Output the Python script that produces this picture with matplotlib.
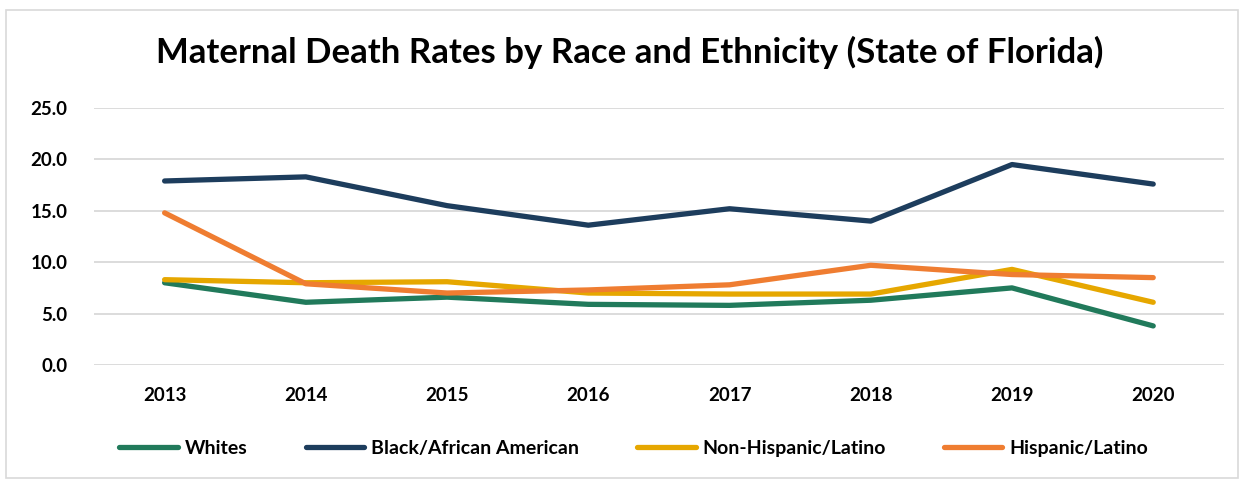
import matplotlib
matplotlib.use('Agg')
import matplotlib.pyplot as plt
from matplotlib.patches import Rectangle

# Values
years = ['2013', '2014', '2015', '2016', '2017', '2018', '2019', '2020']
whites = [8.0, 6.1, 6.6, 5.9, 5.8, 6.3, 7.5, 3.8]
black = [17.9, 18.3, 15.5, 13.6, 15.2, 14.0, 19.5, 17.6]
non_hispanic = [8.3, 8.0, 8.1, 7.0, 6.9, 6.9, 9.3, 6.1]
hispanic = [14.8, 7.9, 7.0, 7.3, 7.8, 9.7, 8.8, 8.5]

series_names = ['Whites', 'Black/African American', 'Non-Hispanic/Latino', 'Hispanic/Latino']
colors = ['#217a5b', '#1d3d5d', '#e6a700', '#ef7d31']

plt.rcParams['font.family'] = ['Lato', 'DejaVu Sans']
plt.rcParams['font.weight'] = 'bold'

fig = plt.figure(figsize=(12.45, 4.8), dpi=100)
ax = fig.add_axes([0.0755, 0.2396, 0.9075, 0.5354])

x = range(len(years))
for vals, name, c in zip([whites, black, non_hispanic, hispanic], series_names, colors):
    ax.plot(x, vals, color=c, linewidth=3.8, label=name, solid_capstyle='round', solid_joinstyle='round')

ax.set_xlim(-0.5, len(years) - 0.5)
ax.set_ylim(0, 25)
ax.set_yticks([0, 5, 10, 15, 20, 25])
ax.set_yticklabels([f'{v:.1f}' for v in [0, 5, 10, 15, 20, 25]])
ax.set_xticks(list(x))
ax.set_xticklabels(years)
ax.tick_params(axis='both', length=0, labelsize=13.5)
ax.tick_params(axis='y', pad=19)
ax.tick_params(axis='x', pad=16)
for lbl in ax.get_xticklabels() + ax.get_yticklabels():
    lbl.set_fontweight('bold')

ax.grid(axis='y', color='#d9d9d9', linewidth=1.3)
ax.set_axisbelow(True)
for s in ax.spines.values():
    s.set_visible(False)

fig.text(0.506, 0.89, 'Maternal Death Rates by Race and Ethnicity (State of Florida)',
         ha='center', va='center', fontsize=25, fontweight='bold')

fig.legend(loc='center', bbox_to_anchor=(0.509, 0.065), ncol=4, frameon=False,
           prop={'size': 14, 'weight': 'bold'}, handlelength=3.0, handletextpad=0.35,
           columnspacing=3.0)

# light border around the chart
fig.patches.append(Rectangle((6 / 1245, 2 / 480), 1232 / 1245, 468 / 480, transform=fig.transFigure,
                             fill=False, edgecolor='#d9d9d9', linewidth=1.2))

plt.savefig('out.png', dpi=100)
